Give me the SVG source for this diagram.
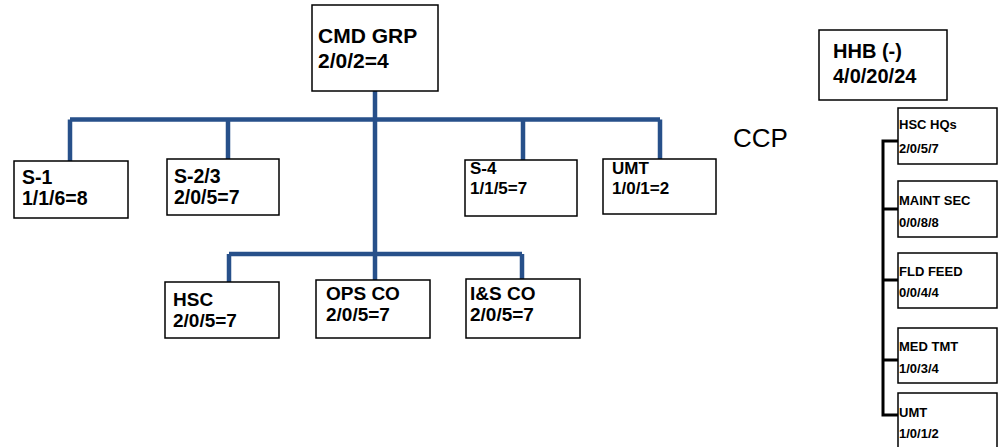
<svg xmlns="http://www.w3.org/2000/svg" width="1004" height="447" viewBox="0 0 1004 447">
<style>
.box{fill:#fff;stroke:#000;stroke-width:1.5}
.t{font-family:"Liberation Sans",Arial,sans-serif;font-weight:bold;fill:#000}
.blue{stroke:#27508A;stroke-width:4.5;fill:none}
.blk{stroke:#000;stroke-width:3;fill:none}
</style>
<rect width="1004" height="447" fill="#fff"/>
<g id="connectors">
<path class="blue" d="M375,91 V280 M70,119.5 H660 M70,119.5 V161 M228,119.5 V159 M523,119.5 V160 M660,119.5 V159 M229,254 H522 M229,254 V282 M522,254 V279"/>
<path class="blk" d="M898,141 H883 V415 H898 M883,209 H898 M883,280 H898 M883,360 H898"/>
</g>
<g id="cmd-grp"><rect class="box" x="312" y="5" width="126" height="86"/><text class="t" font-size="21" x="318" y="43">CMD GRP</text><text class="t" font-size="21" x="318" y="68">2/0/2=4</text></g>
<g id="s1"><rect class="box" x="14" y="161" width="114" height="57"/><text class="t" font-size="19.5" x="22" y="184">S-1</text><text class="t" font-size="19.5" x="22" y="205">1/1/6=8</text></g>
<g id="s23"><rect class="box" x="167" y="159" width="112" height="56"/><text class="t" font-size="19.5" x="174" y="183">S-2/3</text><text class="t" font-size="19.5" x="174" y="204">2/0/5=7</text></g>
<g id="s4"><rect class="box" x="465" y="160" width="112" height="56"/><text class="t" font-size="17" x="470" y="174">S-4</text><text class="t" font-size="17" x="470" y="194">1/1/5=7</text></g>
<g id="umt"><rect class="box" x="603" y="159" width="113" height="55"/><text class="t" font-size="17" x="612" y="174">UMT</text><text class="t" font-size="17" x="612" y="194">1/0/1=2</text></g>
<g id="hsc"><rect class="box" x="165" y="282" width="114" height="56"/><text class="t" font-size="19" x="173" y="306">HSC</text><text class="t" font-size="19" x="173" y="327">2/0/5=7</text></g>
<g id="ops-co"><rect class="box" x="316" y="280" width="114" height="58"/><text class="t" font-size="19" x="326" y="300">OPS CO</text><text class="t" font-size="19" x="326" y="321">2/0/5=7</text></g>
<g id="is-co"><rect class="box" x="466" y="279" width="114" height="59"/><text class="t" font-size="19" x="470" y="300">I&amp;S CO</text><text class="t" font-size="19" x="470" y="321">2/0/5=7</text></g>
<g id="ccp"><text font-family="Liberation Sans,Arial,sans-serif" font-size="26" x="733" y="147" fill="#000">CCP</text></g>
<g id="hhb"><rect class="box" x="819" y="30" width="128" height="70"/><text class="t" font-size="20" x="833" y="58">HHB (-)</text><text class="t" font-size="20" x="833" y="83">4/0/20/24</text></g>
<g id="hsc-hqs"><rect class="box" x="898" y="108" width="99" height="56"/><text class="t" font-size="13" x="899" y="129">HSC HQs</text><text class="t" font-size="13" x="899" y="153">2/0/5/7</text></g>
<g id="maint-sec"><rect class="box" x="898" y="181" width="99" height="56"/><text class="t" font-size="13" x="899" y="205">MAINT SEC</text><text class="t" font-size="13" x="899" y="227">0/0/8/8</text></g>
<g id="fld-feed"><rect class="box" x="898" y="253" width="99" height="55"/><text class="t" font-size="13" x="899" y="276">FLD FEED</text><text class="t" font-size="13" x="899" y="297">0/0/4/4</text></g>
<g id="med-tmt"><rect class="box" x="898" y="328" width="99" height="55"/><text class="t" font-size="13" x="899" y="351">MED TMT</text><text class="t" font-size="13" x="899" y="373">1/0/3/4</text></g>
<g id="umt2"><rect class="box" x="898" y="393" width="99" height="60"/><text class="t" font-size="13" x="899" y="417">UMT</text><text class="t" font-size="13" x="899" y="438">1/0/1/2</text></g>
</svg>
